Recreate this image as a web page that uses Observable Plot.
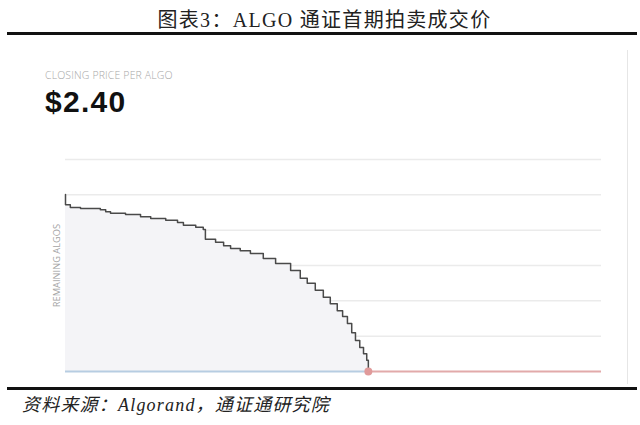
<!DOCTYPE html>
<html>
<head>
<meta charset="utf-8">
<script src="https://cdn.jsdelivr.net/npm/d3@7"></script>
<script src="https://cdn.jsdelivr.net/npm/@observablehq/plot@0.6"></script>
<style>
  html, body { margin: 0; padding: 0; background: #fff; }
  #page { position: relative; width: 640px; height: 425px; overflow: hidden; background: #fff; }
  #title { position: absolute; left: 0; width: 649px; top: 10px; line-height: 20px; text-align: center;
    font-family: "Liberation Serif", "Noto Sans CJK SC", serif; font-size: 20px; color: #222; letter-spacing: 1.3px; }
  .rule { position: absolute; left: 7px; width: 630px; height: 3px; background: #111; }
  #panel { position: absolute; left: 0; top: 50px; width: 627px; height: 334px; border-right: 1px solid #e6e6e6; }
  #kicker { position: absolute; left: 45px; top: 68px; font-family: "Open Sans", sans-serif; font-weight: 300;
    font-size: 10.5px; color: #a6a6a6; letter-spacing: 0.15px; }
  #price { position: absolute; left: 45px; top: 85px; font-family: "Liberation Sans", Arial, sans-serif; font-weight: bold;
    font-size: 30px; color: #111; letter-spacing: 1.3px; }
  #chart { position: absolute; left: 0; top: 140px; }
  #source { position: absolute; left: 22px; top: 396px; line-height: 18px; font-family: "Liberation Serif", "Noto Sans CJK SC", serif;
    font-style: italic; font-size: 18px; color: #222; letter-spacing: 1.2px; }
</style>
</head>
<body>
<div id="page">
  <div id="title">图表3：ALGO 通证首期拍卖成交价</div>
  <div class="rule" style="top:32px"></div>
  <div id="panel"></div>
  <div id="kicker">CLOSING PRICE PER ALGO</div>
  <div id="price">$2.40</div>
  <div id="chart"></div>
  <div class="rule" style="top:387px"></div>
  <div id="source">资料来源：Algorand，通证通研究院</div>
</div>
<script>
// Auction progress (x: elapsed share of auction window, 0-100) vs remaining Algos (millions)
const elapsed = [0, 0, 0.9, 2.8, 6.5, 7.5, 8.4, 11.2, 14.0, 15.9, 18.7, 20.9, 22.0, 24.3, 25.7, 26.1, 28.0, 29.5, 30.8, 32.6, 34.5, 36.9, 39.2, 42.0, 43.8, 45.1, 46.6, 48.1, 49.4, 50.7, 51.7, 52.6, 53.4, 54.1, 54.9, 55.6, 56.2, 56.5, 56.5];
const remaining = [25.05, 23.6, 23.2, 23.07, 22.9, 22.6, 22.4, 22.2, 21.9, 21.65, 21.4, 21.1, 20.7, 20.4, 20.1, 18.7, 18.3, 17.8, 17.4, 17.1, 16.7, 16.0, 15.3, 14.3, 13.2, 12.5, 11.5, 10.5, 9.6, 8.6, 7.8, 6.8, 5.5, 4.4, 3.4, 2.5, 1.6, 0.6, 0];
const gridTicks = [5, 10, 15, 20, 25, 30];
const xDomain = [0, 100];
const closeX = 56.5;
const yLabel = "REMAINING ALGOS";

const data = elapsed.map((x, i) => ({x, y: remaining[i]}));
const baseline = [
  {x1: xDomain[0], x2: closeX, color: "#b7cde2"},
  {x1: closeX, x2: xDomain[1], color: "#e2aaaa"}
];

const chart = Plot.plot({
  width: 640,
  height: 245,
  marginTop: 19,
  marginBottom: 14,
  marginLeft: 65,
  marginRight: 39,
  x: {domain: xDomain, axis: null},
  y: {domain: [0, 30], axis: null},
  marks: [
    Plot.ruleY(gridTicks, {stroke: "#ebebeb", strokeWidth: 1.5}),
    Plot.areaY(data, {x: "x", y1: 0, y2: "y", curve: "step-after", fill: "#f4f4f7"}),
    Plot.line(data, {x: "x", y: "y", curve: "step-after", stroke: "#4a4a4a", strokeWidth: 1.5}),
    Plot.ruleY(baseline, {y: 0, x1: "x1", x2: "x2", stroke: "color", strokeWidth: 2}),
    Plot.dot([{x: closeX, y: 0}], {x: "x", y: "y", r: 4, fill: "#e09a9a", stroke: "none"}),
    Plot.text([yLabel], {frameAnchor: "left", rotate: -90, dx: -8, textAnchor: "middle", text: d => d,
      fill: "#a4a4a4", fontSize: 9.3, fontFamily: "Open Sans, sans-serif"})
  ]
});
document.getElementById("chart").appendChild(chart);
</script>
</body>
</html>
